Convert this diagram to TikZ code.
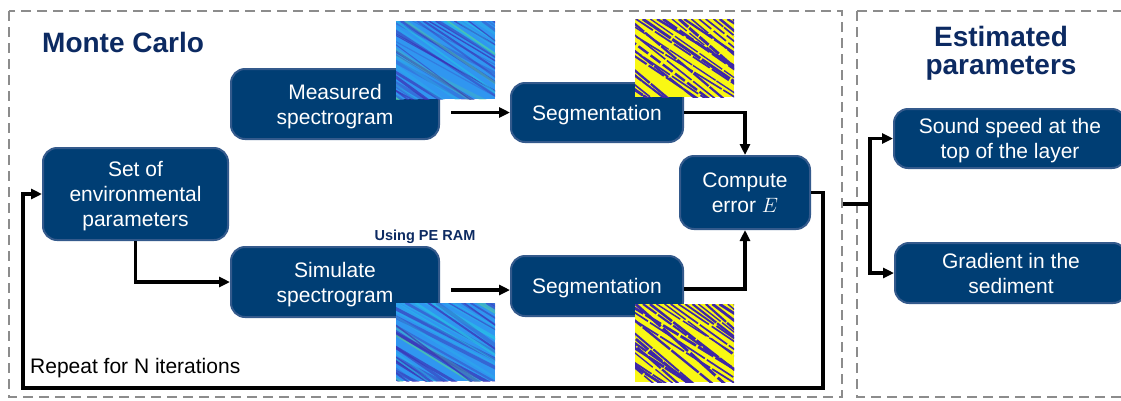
\documentclass[tikz,border=0pt]{standalone}
\usepackage{fontspec}
\setmainfont{Liberation Sans}
\usetikzlibrary{arrows.meta,calc}
\definecolor{nodefill}{RGB}{0,62,116}
\definecolor{nodeborder}{RGB}{52,90,140}
\definecolor{navy}{RGB}{12,42,98}
\definecolor{dashgray}{RGB}{140,140,140}
\definecolor{specbase}{RGB}{48,150,240}
\definecolor{specdark}{RGB}{60,46,180}
\definecolor{specgreen}{RGB}{80,205,160}
\definecolor{speclight}{RGB}{40,190,230}
\definecolor{segyellow}{RGB}{249,248,20}
\definecolor{segdark}{RGB}{62,38,168}
\newcommand{\specpic}[3]{%
\begin{scope}
\clip (#1,#2) rectangle ++(99,78);
\fill[specbase] (#1,#2) rectangle ++(99,78);
\pgfmathsetseed{#3}
\foreach \i in {0,...,48}{
  \pgfmathsetmacro\xs{#1-150+\i*5.3+4*rnd}
  \pgfmathsetmacro\w{0.8+3.2*rnd}
  \pgfmathsetmacro\op{0.25+0.5*rnd}
  \pgfmathsetmacro\sl{0.5+0.25*rnd}
  \pgfmathsetmacro\c{rnd}
  \ifdim\c pt<0.45pt \def\col{specdark}\else\ifdim\c pt<0.72pt \def\col{specgreen}\else\def\col{speclight}\fi\fi
  \draw[line width=\w pt, color=\col, opacity=\op, line cap=round] (\xs,#2) -- ++(250,250*\sl);
}
\end{scope}}
\newcommand{\segpic}[3]{%
\begin{scope}
\clip (#1,#2) rectangle ++(99,78);
\fill[segyellow] (#1,#2) rectangle ++(99,78);
\pgfmathsetseed{#3}
\foreach \i in {0,...,34}{
  \pgfmathsetmacro\xs{#1-140+\i*7.0+2*rnd}
  \pgfmathsetmacro\w{1.3+1.6*rnd}
  \pgfmathsetmacro\sl{0.6+0.3*rnd}
  \pgfmathsetmacro\don{12+25*rnd}
  \pgfmathsetmacro\doff{1+2.5*rnd}
  \draw[line width=\w pt, color=segdark, dash pattern=on \don pt off \doff pt] (\xs,#2) -- ++(250,250*\sl);
}
\end{scope}}
\begin{document}
\begin{tikzpicture}[x=1pt,y=-1pt,
  box/.style={draw=nodeborder, line width=2pt, fill=nodefill, rounded corners=14pt,
    text=white, font=\fontsize{21}{25}\selectfont, align=center, inner sep=0pt, text depth=0pt},
  arr/.style={line width=3.5pt, -{Triangle[length=11pt,width=10pt]}},
  plain/.style={line width=3.5pt},
  dashbox/.style={draw=dashgray, line width=2pt, dash pattern=on 10pt off 6pt},
  title/.style={text=navy, font=\fontsize{28}{28}\selectfont\bfseries, align=center, inner sep=0pt}]
\useasboundingbox (0,0) rectangle (1121,400);
\fill[white] (0,0) rectangle (1121,400);

% dashed frames
\draw[dashbox] (9,11) rectangle (842,397);
\draw[dashbox] (857,11) rectangle (1140,397);

% titles
\node[title, anchor=west] (mc) at (42,42) {Monte Carlo};
\node[title] (est) at (1001,53) {Estimated\\parameters};
\node[text=navy, font=\fontsize{14.5}{16}\selectfont\bfseries, inner sep=0pt] (pe) at (425,237) {Using PE RAM};
\node[font=\fontsize{21}{24}\selectfont, anchor=west, inner sep=0pt] (rep) at (30,368) {Repeat for N iterations};

% nodes
\node[box, minimum width=208pt, minimum height=70pt] (meas) at (335,104) {Measured\\spectrogram};
\node[box, minimum width=185pt, minimum height=92pt] (set) at (135.5,194) {Set of\\environmental\\parameters};
\node[box, minimum width=208pt, minimum height=70pt] (sim) at (335,282) {Simulate\\spectrogram};
\node[box, minimum width=172pt, minimum height=59pt] (seg1) at (597,112.5) {Segmentation};
\node[box, minimum width=172pt, minimum height=60pt] (seg2) at (597,286) {Segmentation};
\node[box, minimum width=130pt, minimum height=73pt] (comp) at (745,192.5) {Compute\\error $E$};
\node[box, minimum width=232pt, minimum height=59pt] (sound) at (1010,138.5) {Sound speed at the\\top of the layer};
\node[box, minimum width=232pt, minimum height=60pt] (grad) at (1011,273) {Gradient in the\\sediment};

% images
\specpic{396}{21}{7}
\segpic{635}{19}{11}
\specpic{396}{303}{23}
\segpic{635}{304}{5}

% connectors
\draw[arr] ($(meas.east |- seg1.west)+(11,0)$) -- (seg1.west);
\draw[arr] (seg1.east) -| (comp.north);
\draw[arr] (set.south) |- (sim.west);
\draw[arr] ($(sim.east |- seg2.west)+(11,4)$) -- ($(seg2.west)+(0,4)$);
\draw[arr] ($(seg2.east)+(0,3)$) -| (comp.south);
\coordinate (loopR) at (823,388);
\coordinate (loopL) at (23,388);
\draw[arr] (comp.east) -| (loopR) -- (loopL) |- (set.west);
\coordinate (outS) at (843,204);
\coordinate (branch) at (870,204);
\draw[plain] (outS) -- (branch);
\draw[arr] (branch) |- (sound.west);
\draw[arr] (branch) |- (grad.west);
\end{tikzpicture}
\end{document}
